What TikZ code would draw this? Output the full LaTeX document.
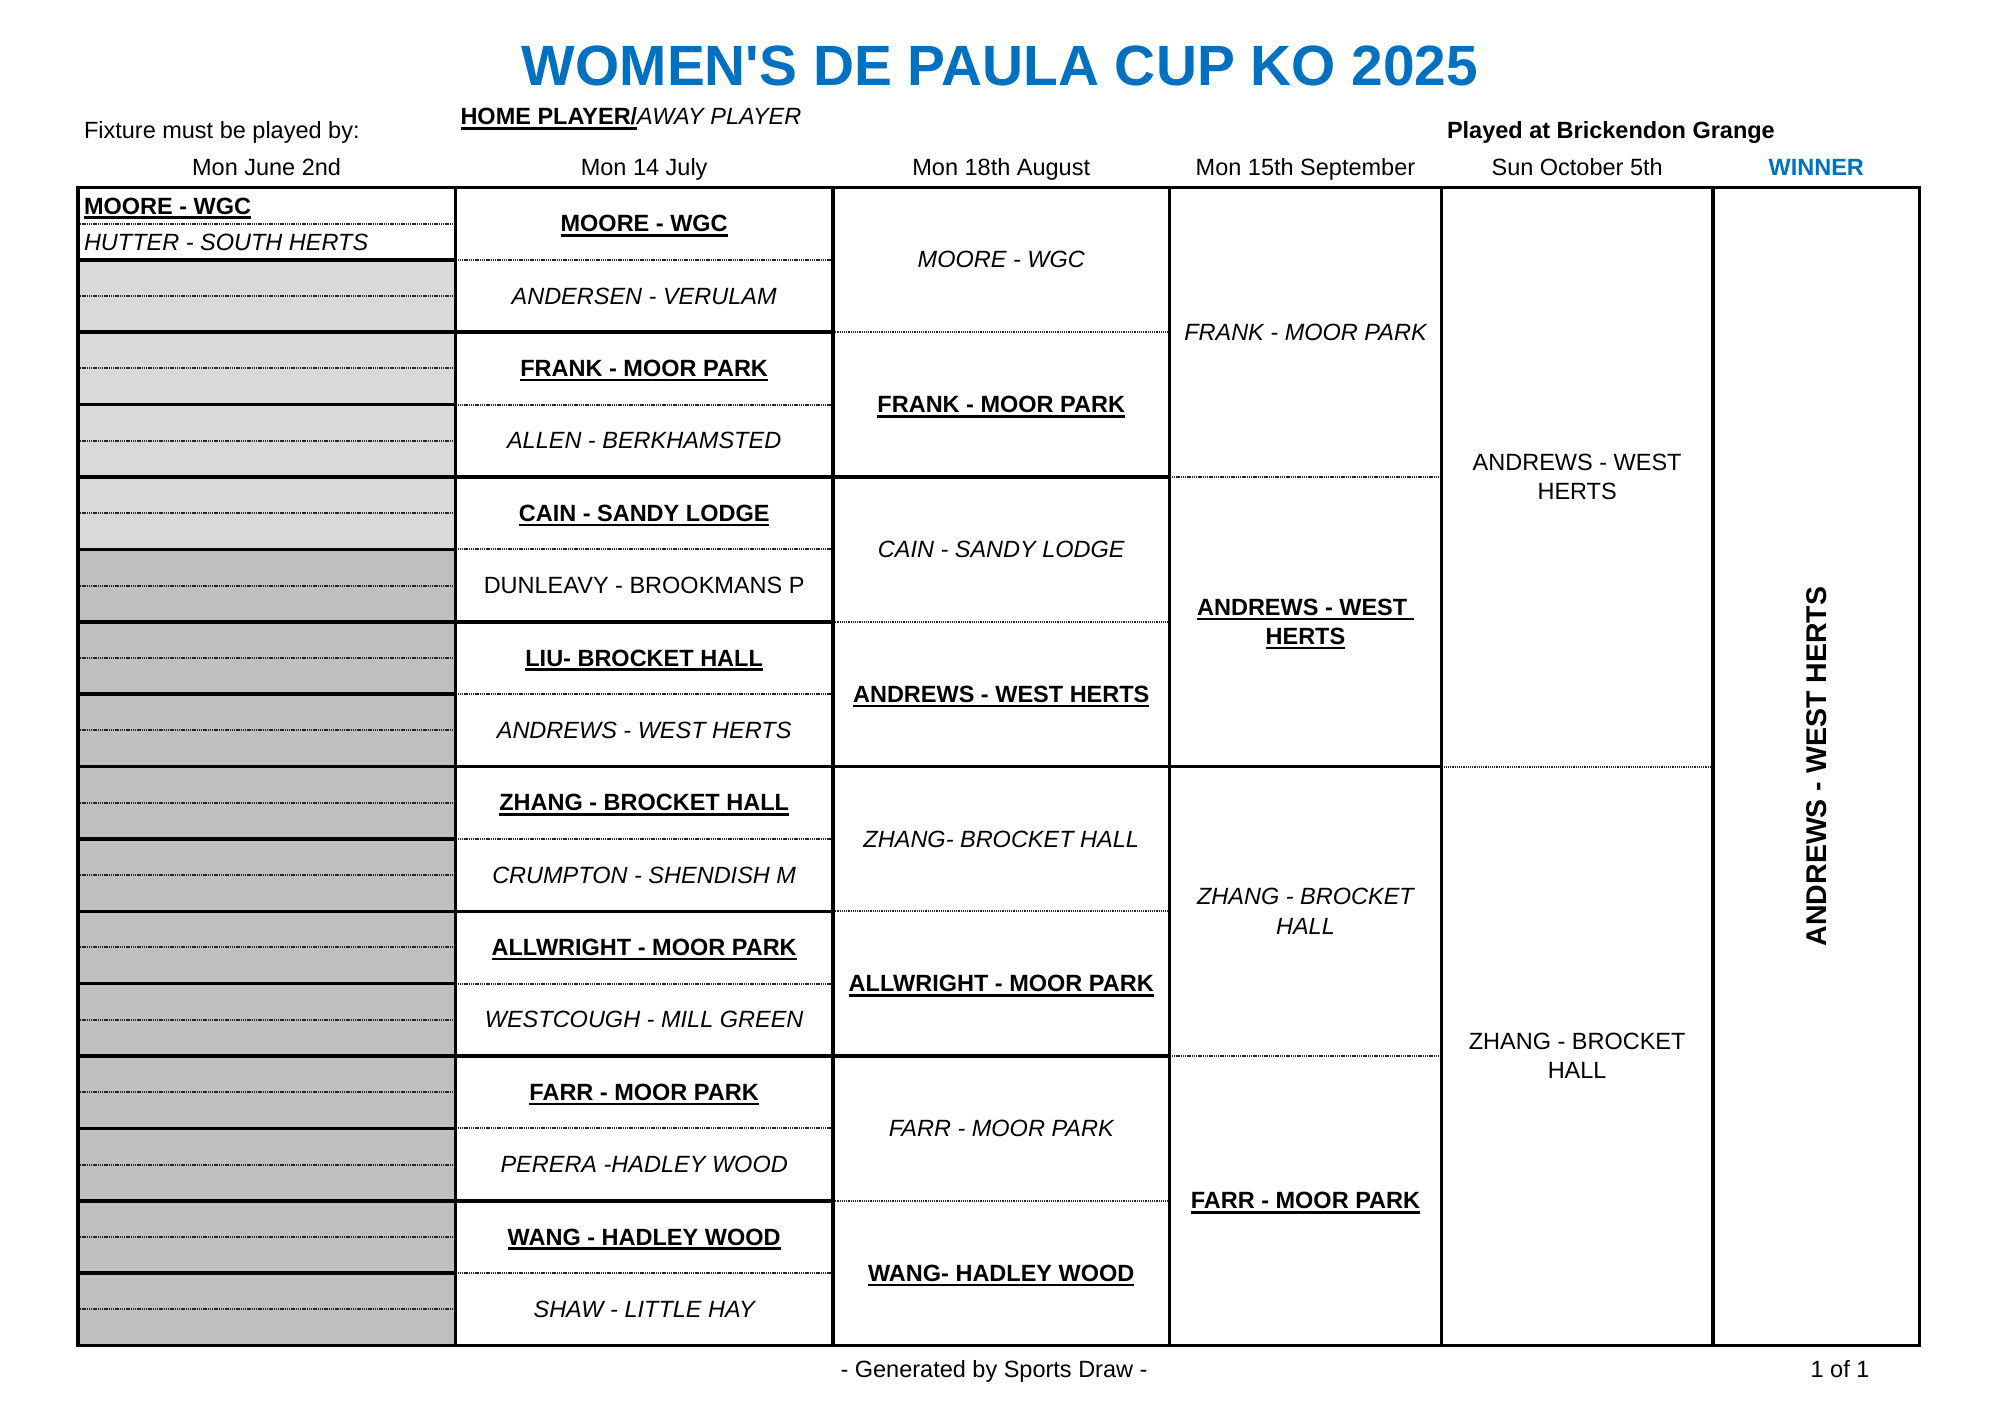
\documentclass[tikz,border=0pt]{standalone}
\usepackage{fontspec}
\setmainfont{Liberation Sans}
\definecolor{titleblue}{HTML}{0070C0}
\definecolor{lightfill}{HTML}{D9D9D9}
\definecolor{darkfill}{HTML}{BFBFBF}
\newcommand{\fsn}{\fontsize{23.5bp}{29.3bp}\selectfont}
\newcommand{\myul}[1]{\setbox0\hbox{#1}\rlap{\raisebox{-4.8bp}[0pt][0pt]{\rule{\wd0}{2.5bp}}}\box0}
\newcommand{\hb}[1]{\myul{\bfseries #1}}
\newcommand{\hi}[1]{{\itshape #1}}
\begin{document}
\begin{tikzpicture}[x=1bp,y=-1bp,
  every node/.style={inner sep=0pt, outer sep=0pt},
  thickrule/.style={line width=3.6bp, black},
  dotrule/.style={line width=2bp, black!85, dash pattern=on 1.3bp off 0.9bp},
  hdr/.style={font=\fsn, anchor=base},
  cell/.style={font=\fsn, anchor=center, align=center}]
\useasboundingbox[fill=white] (0,0) rectangle (2000,1414);
% fills
\fill[lightfill] (77.8,259.88) rectangle (455.4,549.40);
\fill[darkfill] (77.8,549.40) rectangle (455.4,1345.58);
% dotted lines column 1
\foreach \k in {0,...,15}
  \draw[dotrule] (77.8,{187.5+72.38*\k+36.19}) -- (455.4,{187.5+72.38*\k+36.19});
% column 2 dotted
\foreach \k in {1,3,...,15}
  \draw[dotrule] (455.4,{187.5+72.38*\k}) -- (832.9,{187.5+72.38*\k});
% column 3 dotted
\foreach \k in {2,6,10,14}
  \draw[dotrule] (832.9,{187.5+72.38*\k}) -- (1169.6,{187.5+72.38*\k});
% column 4 dotted
\foreach \k in {4,12}
  \draw[dotrule] (1169.6,{187.5+72.38*\k}) -- (1441.3,{187.5+72.38*\k});
% column 5 dotted
\draw[dotrule] (1441.3,766.54) -- (1713.0,766.54);
% thick lines
\foreach \k in {1,...,15}
  \draw[thickrule] (77.8,{187.5+72.38*\k}) -- (455.4,{187.5+72.38*\k});
\foreach \k in {2,4,...,14}
  \draw[thickrule] (455.4,{187.5+72.38*\k}) -- (832.9,{187.5+72.38*\k});
\foreach \k in {4,8,12}
  \draw[thickrule] (832.9,{187.5+72.38*\k}) -- (1169.6,{187.5+72.38*\k});
\draw[thickrule] (1169.6,766.54) -- (1441.3,766.54);
\foreach \x in {455.4,832.9,1169.6,1441.3,1713.0}
  \draw[thickrule] (\x,187.5) -- (\x,1345.58);
\draw[thickrule] (77.8,187.5) rectangle (1919.6,1345.58);
% title and headings
\node[anchor=base, font=\fontsize{56.8bp}{68bp}\selectfont\bfseries, text=titleblue] (title) at (1000,85.5) {WOMEN\textquotesingle S DE PAULA CUP KO 2025};
\node[hdr, anchor=base west] (fixture) at (84,139) {Fixture must be played by:};
\node[hdr, anchor=base west] (homeaway) at (460.5,125) {\myul{\bfseries HOME\ PLAYER/}\hi{AWAY PLAYER}};
\node[hdr, anchor=base west, font=\fsn\bfseries] (venue) at (1447,139) {Played at Brickendon Grange};
\node[hdr] (h1) at (266.6,175.5) {Mon June 2nd};
\node[hdr] (h2) at (644.15,175.5) {Mon 14 July};
\node[hdr] (h3) at (1001.25,175.5) {Mon 18th August};
\node[hdr] (h4) at (1305.45,175.5) {Mon 15th September};
\node[hdr] (h5) at (1577.15,175.5) {Sun October 5th};
\node[hdr, font=\fsn\bfseries, text=titleblue] (h6) at (1816.3,175.5) {WINNER};
% column 1
\node[cell, anchor=west] (c1a) at (84,206) {\hb{MOORE - WGC}};
\node[cell, anchor=west] (c1b) at (84,242) {\hi{HUTTER - SOUTH HERTS}};
% column 2
\node[cell] (c2r1) at (644.15,223.69) {\hb{MOORE - WGC}};
\node[cell] (c2r2) at (644.15,296.07) {\hi{ANDERSEN - VERULAM}};
\node[cell] (c2r3) at (644.15,368.45) {\hb{FRANK - MOOR PARK}};
\node[cell] (c2r4) at (644.15,440.83) {\hi{ALLEN - BERKHAMSTED}};
\node[cell] (c2r5) at (644.15,513.21) {\hb{CAIN - SANDY LODGE}};
\node[cell] (c2r6) at (644.15,585.59) {DUNLEAVY - BROOKMANS P};
\node[cell] (c2r7) at (644.15,657.97) {\hb{LIU- BROCKET HALL}};
\node[cell] (c2r8) at (644.15,730.35) {\hi{ANDREWS - WEST HERTS}};
\node[cell] (c2r9) at (644.15,802.73) {\hb{ZHANG - BROCKET HALL}};
\node[cell] (c2r10) at (644.15,875.11) {\hi{CRUMPTON - SHENDISH M}};
\node[cell] (c2r11) at (644.15,947.49) {\hb{ALLWRIGHT - MOOR PARK}};
\node[cell] (c2r12) at (644.15,1019.87) {\hi{WESTCOUGH - MILL GREEN}};
\node[cell] (c2r13) at (644.15,1092.25) {\hb{FARR - MOOR PARK}};
\node[cell] (c2r14) at (644.15,1164.63) {\hi{PERERA -HADLEY WOOD}};
\node[cell] (c2r15) at (644.15,1237.01) {\hb{WANG - HADLEY WOOD}};
\node[cell] (c2r16) at (644.15,1309.39) {\hi{SHAW - LITTLE HAY}};
% column 3
\node[cell] (c3r1) at (1001.25,259.88) {\hi{MOORE - WGC}};
\node[cell] (c3r2) at (1001.25,404.64) {\hb{FRANK - MOOR PARK}};
\node[cell] (c3r3) at (1001.25,549.40) {\hi{CAIN - SANDY LODGE}};
\node[cell] (c3r4) at (1001.25,694.16) {\hb{ANDREWS - WEST HERTS}};
\node[cell] (c3r5) at (1001.25,838.92) {\hi{ZHANG- BROCKET HALL}};
\node[cell] (c3r6) at (1001.25,983.68) {\hb{ALLWRIGHT - MOOR PARK}};
\node[cell] (c3r7) at (1001.25,1128.44) {\hi{FARR - MOOR PARK}};
\node[cell] (c3r8) at (1001.25,1273.20) {\hb{WANG- HADLEY WOOD}};
% column 4
\node[cell] (c4r1) at (1305.45,332.26) {\hi{FRANK - MOOR PARK}};
\node[cell] (c4r2) at (1305.45,621.78) {\hb{ANDREWS - WEST\ }\\\hb{HERTS}};
\node[cell] (c4r3) at (1305.45,911.30) {\hi{ZHANG - BROCKET}\\\hi{HALL}};
\node[cell] (c4r4) at (1305.45,1200.82) {\hb{FARR - MOOR PARK}};
% column 5
\node[cell] (c5r1) at (1577.15,477.02) {ANDREWS - WEST\\HERTS};
\node[cell] (c5r2) at (1577.15,1056.06) {ZHANG - BROCKET\\HALL};
% winner
\node[cell, rotate=90, font=\fontsize{28.5bp}{34bp}\selectfont\bfseries] (winner) at (1816.3,766.54) {ANDREWS - WEST HERTS};
% footer
\node[hdr] (footer) at (994,1377) {- Generated by Sports Draw -};
\node[hdr] (page) at (1840,1377) {1 of 1};
\end{tikzpicture}
\end{document}
